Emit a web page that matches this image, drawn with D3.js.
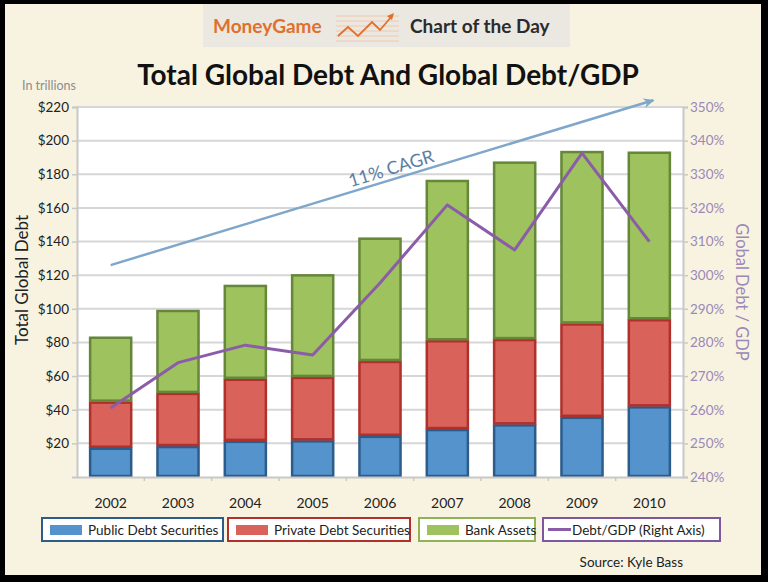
<!DOCTYPE html>
<html>
<head>
<meta charset="utf-8">
<script src="https://cdn.jsdelivr.net/npm/d3@7"></script>
<style>
  body { margin: 0; background: #000; }
  svg { display: block; font-family: Lato, "Open Sans", sans-serif; }
</style>
</head>
<body>
<div id="chart"></div>
<script>
// values (trillions of dollars, and percent of GDP)
const years = ["2002", "2003", "2004", "2005", "2006", "2007", "2008", "2009", "2010"];
const publicDebt = [17.4, 18.4, 21.5, 21.8, 24.5, 28.5, 31.3, 35.8, 42.0];
const privateDebt = [27.4, 31.6, 36.9, 37.7, 44.5, 52.8, 50.7, 55.5, 51.8];
const bankAssets = [38.6, 49.3, 55.8, 61.0, 73.3, 95.3, 105.5, 102.5, 99.6];
const debtGdp = [260.5, 274.0, 279.2, 276.3, 297.7, 320.9, 307.5, 336.3, 310.0];
const leftTicks = [20, 40, 60, 80, 100, 120, 140, 160, 180, 200, 220];
const rightTicks = [240, 250, 260, 270, 280, 290, 300, 310, 320, 330, 340, 350];
// trend arrow: start at 2002, end at 2010, in $ trillions
const trendStart = 126, trendEnd = 224;

const seriesNames = ["Public Debt Securities", "Private Debt Securities", "Bank Assets"];
const fills = ["#5593cd", "#d9625b", "#9dc25e"];
const strokes = ["#2c5d8a", "#b0302c", "#66863a"];
const lineColor = "#8b5ca8";

const width = 768, height = 582;
const plotLeft = 77, plotRight = 683, plotTop = 107, plotBottom = 477;

const svg = d3.select("#chart").append("svg")
  .attr("width", width)
  .attr("height", height);

// page
svg.append("rect").attr("x", 5).attr("y", 4).attr("width", 756).attr("height", 571)
  .attr("fill", "#f8f3e1");

// banner
svg.append("rect").attr("x", 203).attr("y", 4).attr("width", 367).attr("height", 43)
  .attr("fill", "#ebe7e1");
svg.append("text").attr("x", 213).attr("y", 33)
  .attr("font-size", 19).attr("font-weight", "bold").attr("fill", "#e0702c")
  .text("MoneyGame");
let icon = svg.append("g").attr("transform", "translate(336,12)");
for (let i = 0; i < 6; i++) {
  icon.append("line").attr("x1", 0).attr("x2", 63).attr("y1", 4 + i * 5).attr("y2", 4 + i * 5)
    .attr("stroke", "#f0c9b0").attr("stroke-width", 1);
}
icon.append("path").attr("d", "M2,24 L12,15 L22,24 L36,10 L44,18 L56,4")
  .attr("fill", "none").attr("stroke", "#e0702c").attr("stroke-width", 1.8);
icon.append("path").attr("d", "M51,4 L58,1 L56,8 Z").attr("fill", "#e0702c");
svg.append("text").attr("x", 410).attr("y", 33)
  .attr("font-size", 19).attr("font-weight", "bold").attr("fill", "#2b2b2b")
  .text("Chart of the Day");

// title
svg.append("text").attr("x", 388).attr("y", 85).attr("text-anchor", "middle")
  .attr("font-size", 28).attr("font-weight", "bold").attr("fill", "#111")
  .text("Total Global Debt And Global Debt/GDP");

svg.append("text").attr("x", 22).attr("y", 90)
  .attr("font-size", 12.5).attr("fill", "#8c8c8c")
  .text("In trillions");

// scales
let x = d3.scaleBand().domain(years).range([plotLeft, plotRight])
  .paddingInner(0.36).paddingOuter(0.18);
let y = d3.scaleLinear().domain([0, 220]).range([plotBottom, plotTop]);
let y2 = d3.scaleLinear().domain([240, 350]).range([plotBottom, plotTop]);

// plot area
svg.append("rect").attr("x", plotLeft).attr("y", plotTop)
  .attr("width", plotRight - plotLeft).attr("height", plotBottom - plotTop)
  .attr("fill", "#fff");

svg.append("g").selectAll("line")
  .data(leftTicks)
  .enter().append("line")
  .attr("x1", plotLeft).attr("x2", plotRight)
  .attr("y1", d => y(d)).attr("y2", d => y(d))
  .attr("stroke", "#d6d6d6").attr("stroke-width", 2);

// stacked bars
let stackData = years.map((yr, i) => ({
  year: yr, public: publicDebt[i], private: privateDebt[i], bank: bankAssets[i]
}));
let stacked = d3.stack().keys(["public", "private", "bank"])(stackData);

stacked.forEach((layer, k) => {
  svg.append("g").selectAll("rect")
    .data(layer)
    .enter().append("rect")
    .attr("x", d => x(d.data.year) + 1)
    .attr("y", d => y(d[1]) + 1)
    .attr("width", x.bandwidth() - 2)
    .attr("height", d => y(d[0]) - y(d[1]) - 2)
    .attr("fill", fills[k])
    .attr("stroke", strokes[k])
    .attr("stroke-width", 2.5);
});

// axes
let yAxis = d3.axisLeft(y).tickValues(leftTicks).tickSize(5).tickFormat(d => "$" + d);
let gy = svg.append("g").attr("transform", "translate(" + plotLeft + ",0)").call(yAxis);
gy.select(".domain").attr("stroke", "#c8c8c8").attr("stroke-width", 2);
gy.selectAll(".tick line").attr("stroke", "#c8c8c8").attr("stroke-width", 1.5);
gy.selectAll(".tick text").attr("font-size", 13.5).attr("fill", "#222").attr("x", -8)
  .attr("font-family", "Lato, sans-serif");

let yAxis2 = d3.axisRight(y2).tickValues(rightTicks).tickSize(5).tickFormat(d => d + "%");
let gy2 = svg.append("g").attr("transform", "translate(" + plotRight + ",0)").call(yAxis2);
gy2.select(".domain").attr("stroke", "#c8c8c8").attr("stroke-width", 2);
gy2.selectAll(".tick line").attr("stroke", "#c8c8c8").attr("stroke-width", 1.5);
gy2.selectAll(".tick text").attr("font-size", 13.5).attr("fill", "#9a88b8").attr("x", 7)
  .attr("font-family", "Lato, sans-serif");

let xAxis = d3.axisBottom(x).tickSize(0).tickPadding(21);
let gx = svg.append("g").attr("transform", "translate(0," + plotBottom + ")").call(xAxis);
gx.select(".domain").attr("stroke", "#c8c8c8").attr("stroke-width", 2);
gx.selectAll(".tick text").attr("font-size", 14).attr("fill", "#222")
  .attr("font-family", "Lato, sans-serif");
// small ticks between the categories
gx.selectAll(".sep").data(years.slice(1))
  .enter().append("line")
  .attr("x1", d => x(d) - x.step() * x.paddingInner() / 2)
  .attr("x2", d => x(d) - x.step() * x.paddingInner() / 2)
  .attr("y1", 0).attr("y2", 4)
  .attr("stroke", "#c8c8c8").attr("stroke-width", 1.5);

// axis titles
svg.append("text")
  .attr("transform", "translate(28," + 280 + ") rotate(-90)")
  .attr("text-anchor", "middle").attr("font-size", 17).attr("fill", "#222")
  .text("Total Global Debt");
svg.append("text")
  .attr("transform", "translate(736," + 292 + ") rotate(90)")
  .attr("text-anchor", "middle").attr("font-size", 16.5).attr("fill", "#9a88b8")
  .text("Global Debt / GDP");

// debt/GDP line
let line = d3.line()
  .x((d, i) => x(years[i]) + x.bandwidth() / 2)
  .y(d => y2(d));
svg.append("path").datum(debtGdp)
  .attr("d", line)
  .attr("fill", "none")
  .attr("stroke", lineColor)
  .attr("stroke-width", 3)
  .attr("stroke-linejoin", "round");

// CAGR trend arrow
let x0 = x(years[0]) + x.bandwidth() / 2;
let x1 = x(years[years.length - 1]) + x.bandwidth() / 2 + 4;
let ty0 = y(trendStart), ty1 = y(trendEnd);
svg.append("defs").append("marker")
  .attr("id", "arrow").attr("viewBox", "0 0 10 10")
  .attr("refX", 8).attr("refY", 5)
  .attr("markerWidth", 5).attr("markerHeight", 5)
  .attr("orient", "auto")
  .append("path").attr("d", "M0,1 L9,5 L0,9 L3,5 Z").attr("fill", "#7fa7cb");
svg.append("line")
  .attr("x1", x0).attr("y1", ty0).attr("x2", x1).attr("y2", ty1)
  .attr("stroke", "#7fa7cb").attr("stroke-width", 2.5)
  .attr("marker-end", "url(#arrow)");
let angle = Math.atan2(ty1 - ty0, x1 - x0) * 180 / Math.PI;
let tx = x0 + (x1 - x0) * 0.52, tyy = ty0 + (ty1 - ty0) * 0.52 - 5;
svg.append("text")
  .attr("transform", "translate(" + tx + "," + tyy + ") rotate(" + angle + ")")
  .attr("text-anchor", "middle").attr("font-size", 18)
  .attr("fill", "#5d7ea3")
  .text("11% CAGR");

// legend
let legendItems = [
  { name: seriesNames[0], color: fills[0], border: strokes[0], x: 42, w: 181, kind: "box" },
  { name: seriesNames[1], color: fills[1], border: strokes[1], x: 228, w: 182, kind: "box" },
  { name: seriesNames[2], color: fills[2], border: "#8fb455", x: 419, w: 116, kind: "box" },
  { name: "Debt/GDP (Right Axis)", color: lineColor, border: "#7d58a0", x: 543, w: 177, kind: "line" }
];
let lg = svg.append("g").selectAll("g")
  .data(legendItems)
  .enter().append("g")
  .attr("transform", d => "translate(" + d.x + ",518)");
lg.append("rect").attr("width", d => d.w).attr("height", 23)
  .attr("fill", "#fff").attr("stroke", d => d.border).attr("stroke-width", 2);
lg.filter(d => d.kind === "box").append("rect")
  .attr("x", 8).attr("y", 7).attr("width", 32).attr("height", 10)
  .attr("fill", d => d.color);
lg.filter(d => d.kind === "line").append("line")
  .attr("x1", 5).attr("x2", 28).attr("y1", 11.5).attr("y2", 11.5)
  .attr("stroke", d => d.color).attr("stroke-width", 3);
lg.append("text")
  .attr("x", d => d.kind === "box" ? 46 : 29).attr("y", 16.5)
  .attr("font-size", 13.5).attr("fill", "#222")
  .text(d => d.name);

svg.append("text").attr("x", 683).attr("y", 567).attr("text-anchor", "end")
  .attr("font-size", 13.5).attr("fill", "#222")
  .text("Source: Kyle Bass");
</script>
</body>
</html>
